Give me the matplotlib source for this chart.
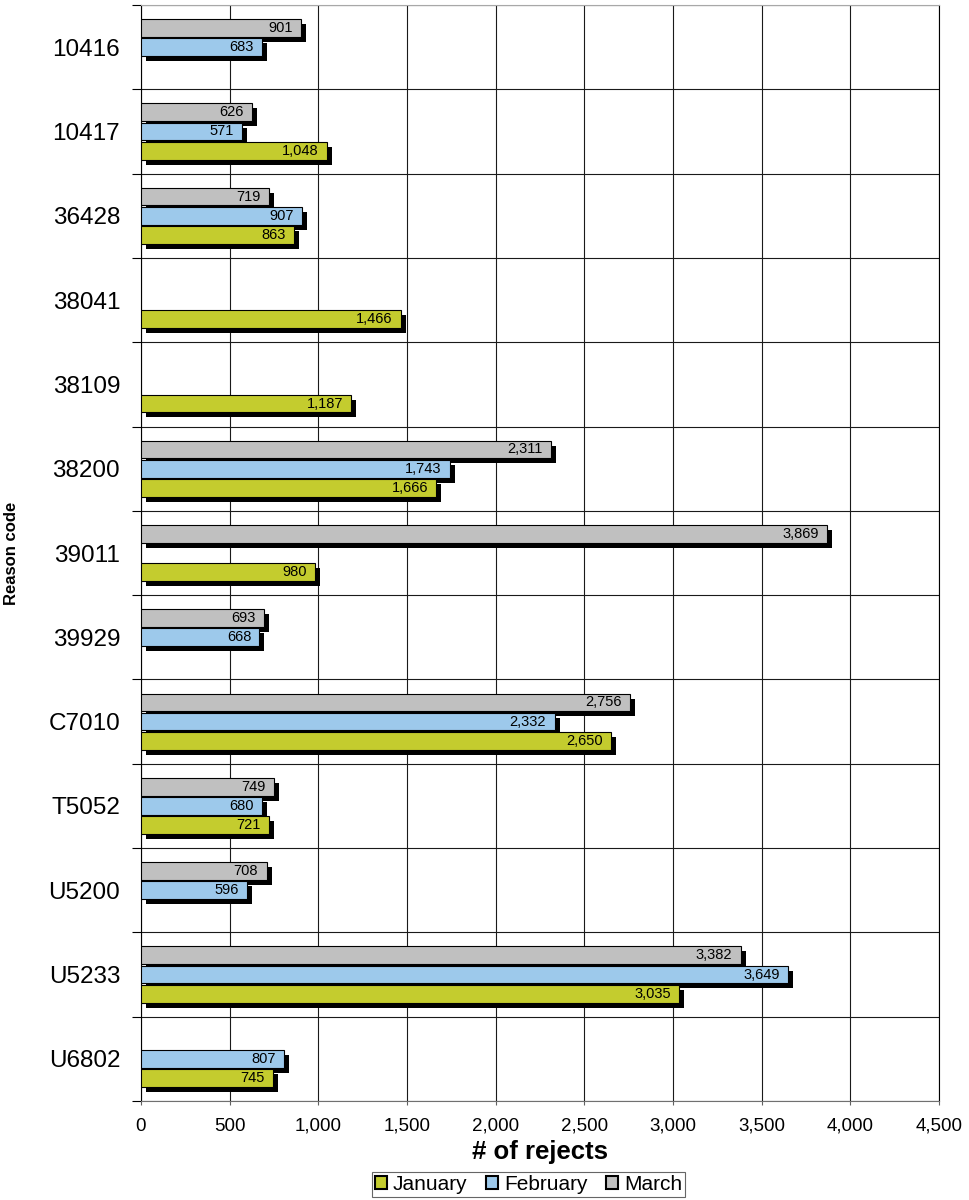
import numpy as np
import matplotlib
matplotlib.use("Agg")
import matplotlib.pyplot as plt
import matplotlib.patheffects as pe
from matplotlib.patches import Patch
from matplotlib.ticker import FuncFormatter, FixedLocator

plt.rcParams['font.family'] = ['Liberation Sans', 'DejaVu Sans']

# reject counts per reason code, one list per month (None = no rejects)
codes = ['10416', '10417', '36428', '38041', '38109', '38200', '39011',
         '39929', 'C7010', 'T5052', 'U5200', 'U5233', 'U6802']
jan = [None, 1048, 863, 1466, 1187, 1666, 980, None, 2650, 721, None, 3035, 745]
feb = [683, 571, 907, None, None, 1743, None, 668, 2332, 680, 596, 3649, 807]
mar = [901, 626, 719, None, None, 2311, 3869, 693, 2756, 749, 708, 3382, None]
months = ['January', 'February', 'March']
colors = {'January': '#C4CC2E', 'February': '#9DC9EB', 'March': '#C0C0C0'}

fig = plt.figure(figsize=(9.7, 12), dpi=100)
ax = fig.add_axes([141 / 970, 1 - 1101 / 1200, 798 / 970, 1096 / 1200])

pitch = 0.228
bar_h = 0.21
shadow = [pe.SimplePatchShadow(offset=(3.6, -3.6), shadow_rgbFace='black', alpha=1.0),
          pe.Normal()]

# March on top of each group, January at the bottom; later series overlap earlier shadows
series = [('March', mar, -pitch), ('February', feb, 0.0), ('January', jan, pitch)]
for z, (name, vals, off) in enumerate(series):
    idx = [i for i, v in enumerate(vals) if v is not None]
    v = [vals[i] for i in idx]
    y = np.array(idx) + off
    bars = ax.barh(y, v, height=bar_h, color=colors[name], edgecolor='black',
                   linewidth=0.8, zorder=3 + z)
    for b in bars:
        b.set_path_effects(shadow)
    for yy, val in zip(y, v):
        ax.annotate(f'{val:,}', xy=(val, yy), xytext=(-6, 0), textcoords='offset points',
                    ha='right', va='center', fontsize=10.5, zorder=10 + z)

ax.set_xlim(0, 4500)
ax.set_ylim(len(codes) - 0.5, -0.5)

ax.set_xticks(np.arange(0, 4501, 500))
ax.xaxis.set_major_formatter(FuncFormatter(lambda x, p: f'{int(x):,}'))
ax.tick_params(axis='x', direction='out', length=3, width=0.8, pad=9,
               labelsize=13.5, color='#606060')

# boundaries between codes carry the ticks and grid; labels sit at the centres
ax.yaxis.set_major_locator(FixedLocator(np.arange(-0.5, len(codes), 1.0)))
ax.yaxis.set_minor_locator(FixedLocator(np.arange(len(codes))))
ax.set_yticklabels([], minor=False)
ax.set_yticklabels(codes, minor=True)
ax.tick_params(axis='y', which='major', direction='out', length=6.5, width=0.8)
ax.tick_params(axis='y', which='minor', length=0, pad=15, labelsize=17.5)

ax.set_axisbelow(True)
ax.grid(True, which='major', color='#1a1a1a', linewidth=0.8)

ax.spines['top'].set_color('#a8a8a8')
ax.spines['bottom'].set_color('#707070')
ax.spines['left'].set_color('black')
ax.spines['right'].set_color('black')
for s in ax.spines.values():
    s.set_linewidth(0.8)

ax.set_xlabel('# of rejects', fontsize=18.5, fontweight='bold', va='center')
ax.xaxis.set_label_coords(0.5, (1101 - 1152) / 1096)
ax.set_ylabel('Reason code', fontsize=12, fontweight='bold', va='center')
ax.yaxis.set_label_coords((11 - 141) / 798, 0.5)

handles = [Patch(facecolor=colors[m], edgecolor='black', linewidth=1.5, label=m)
           for m in months]
leg = ax.legend(handles=handles, loc='center', bbox_to_anchor=(0.486, (1101 - 1184.5) / 1096),
                ncol=3, fontsize=15, frameon=True, fancybox=False, borderpad=0.15,
                handlelength=0.55, handleheight=0.55, handletextpad=0.3,
                columnspacing=0.9, borderaxespad=0)
leg.get_frame().set_edgecolor('#404040')
leg.get_frame().set_linewidth(0.8)

fig.savefig('out.png', dpi=100)
